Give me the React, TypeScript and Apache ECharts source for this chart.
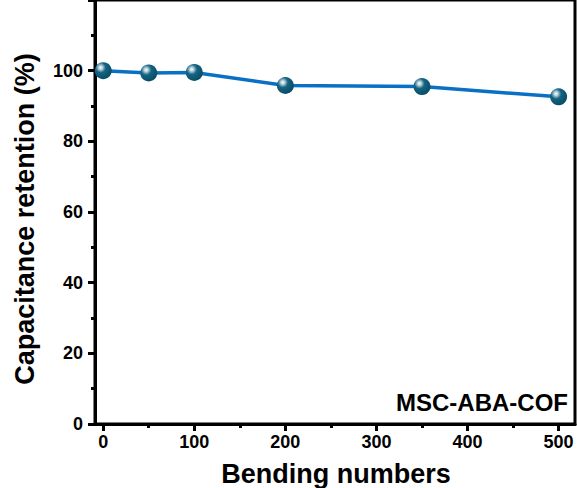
import React, { useEffect, useRef } from "react";
import * as echarts from "echarts";

const bendingNumbers = [0, 50, 100, 200, 350, 500];
const retention = [100.0, 99.35, 99.5, 95.8, 95.5, 92.6];
const xLabelValues = [0, 100, 200, 300, 400, 500];
const xMinorValues = [50, 150, 250, 350, 450];
const yLabelValues = [0, 20, 40, 60, 80, 100];

const FONT = "'Liberation Sans', Arial, Helvetica, sans-serif";

export default function App() {
  const ref = useRef<HTMLDivElement>(null);
  useEffect(() => {
    if (!ref.current) return;
    const chart = echarts.init(ref.current, undefined, { renderer: "svg" });
    chart.setOption({
      animation: false,
      backgroundColor: "#fff",
      grid: {
        left: 95,
        right: 2,
        top: -2,
        bottom: 64,
        containLabel: false,
        show: true,
        borderColor: "#000",
        borderWidth: 3,
        backgroundColor: "transparent",
      },
      xAxis: [
        {
          type: "value",
          min: -9,
          max: 518,
          position: "bottom",
          axisLine: { show: true, onZero: false, lineStyle: { color: "#000", width: 3 } },
          axisTick: { show: true, customValues: xLabelValues, length: 7, lineStyle: { color: "#000", width: 3 } },
          axisLabel: {
            show: true,
            customValues: xLabelValues,
            margin: 9,
            fontSize: 18,
            fontWeight: "bold",
            color: "#000",
            fontFamily: FONT,
          },
          splitLine: { show: false },
        },
        {
          type: "value",
          min: -9,
          max: 518,
          position: "bottom",
          axisLine: { show: false, onZero: false },
          axisTick: { show: true, customValues: xMinorValues, length: 4, lineStyle: { color: "#000", width: 3 } },
          axisLabel: { show: false },
          splitLine: { show: false },
        },
      ],
      yAxis: [
        {
          type: "value",
          min: 0,
          max: 120,
          interval: 20,
          position: "left",
          axisLine: { show: true, onZero: false, lineStyle: { color: "#000", width: 3 } },
          axisTick: { show: true, length: 7, lineStyle: { color: "#000", width: 3 } },
          minorTick: { show: true, splitNumber: 2, length: 4, lineStyle: { color: "#000", width: 3 } },
          axisLabel: {
            show: true,
            customValues: yLabelValues,
            margin: 12,
            fontSize: 18,
            fontWeight: "bold",
            color: "#000",
            fontFamily: FONT,
          },
          splitLine: { show: false },
        },
      ],
      series: [
        {
          type: "line",
          data: bendingNumbers.map((x, i) => [x, retention[i]]),
          xAxisIndex: 0,
          yAxisIndex: 0,
          symbol: "circle",
          symbolSize: 17,
          lineStyle: { color: "#0a70c4", width: 3.5 },
          itemStyle: {
            color: {
              type: "radial",
              x: 0.35,
              y: 0.32,
              r: 0.75,
              colorStops: [
                { offset: 0, color: "#ffffff" },
                { offset: 0.15, color: "#b8d2dc" },
                { offset: 0.4, color: "#156482" },
                { offset: 1, color: "#064a63" },
              ],
            },
            borderWidth: 0,
          },
          z: 3,
        },
      ],
      graphic: [
        {
          type: "text",
          x: 568,
          y: 402.5,
          style: {
            text: "MSC-ABA-COF",
            fontSize: 24,
            fontWeight: "bold",
            fontFamily: FONT,
            fill: "#000",
            align: "right",
            verticalAlign: "middle",
          },
        },
        {
          type: "text",
          x: 336,
          y: 474,
          style: {
            text: "Bending numbers",
            fontSize: 27,
            fontWeight: "bold",
            fontFamily: FONT,
            fill: "#000",
            align: "center",
            verticalAlign: "middle",
          },
        },
        {
          type: "text",
          x: 25,
          y: 219,
          rotation: Math.PI / 2,
          style: {
            text: "Capacitance retention (%)",
            fontSize: 27,
            fontWeight: "bold",
            fontFamily: FONT,
            fill: "#000",
            align: "center",
            verticalAlign: "middle",
          },
        },
      ],
    });
    return () => chart.dispose();
  }, []);
  return (
    <div
      ref={ref}
      style={{ position: "fixed", left: 0, top: 0, width: 577, height: 488 }}
    />
  );
}
